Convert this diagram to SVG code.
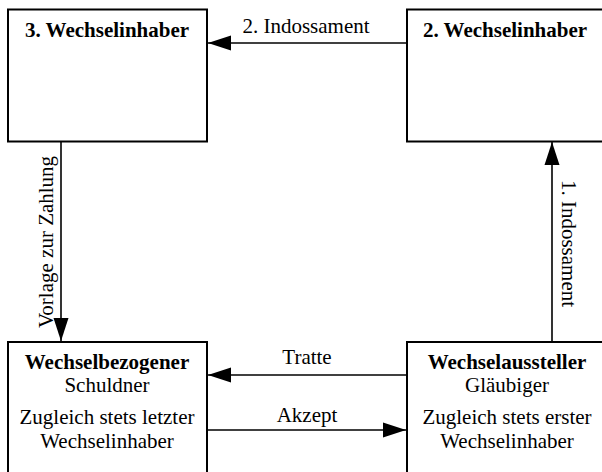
<svg xmlns="http://www.w3.org/2000/svg" width="602" height="472" viewBox="0 0 602 472">
<style>
.box{fill:#fff;stroke:#000;stroke-width:2}
.con{stroke:#000;stroke-width:1.6;fill:none}
text{font-family:"Liberation Serif","Times New Roman",serif;font-size:21px;fill:#000;text-anchor:middle}
.b{font-weight:bold}
</style>
<defs>
<marker id="ah" markerUnits="userSpaceOnUse" markerWidth="23" markerHeight="16" refX="23" refY="8" orient="auto">
<path d="M0,0.5 L23,8 L0,15.5 z" fill="#000"/>
</marker>
</defs>
<rect width="602" height="472" fill="#fff"/>
<g id="n3">
<rect class="box" x="8" y="9.5" width="199" height="132"/>
<text class="b" x="107" y="37">3. Wechselinhaber</text>
</g>
<g id="n2">
<rect class="box" x="407" y="9.5" width="210" height="132"/>
<text class="b" x="505" y="37">2. Wechselinhaber</text>
</g>
<g id="nb">
<rect class="box" x="8" y="342" width="199" height="140"/>
<text class="b" x="107" y="369">Wechselbezogener</text>
<text x="107" y="392">Schuldner</text>
<text x="107" y="424">Zugleich stets letzter</text>
<text x="107" y="448">Wechselinhaber</text>
</g>
<g id="na">
<rect class="box" x="407" y="342" width="210" height="140"/>
<text class="b" x="507" y="369">Wechselaussteller</text>
<text x="507" y="392">Gläubiger</text>
<text x="507" y="424">Zugleich stets erster</text>
<text x="507" y="448">Wechselinhaber</text>
</g>
<g id="connectors">
<line class="con" x1="406" y1="43" x2="208" y2="43" marker-end="url(#ah)"/>
<text x="306" y="33">2. Indossament</text>
<line class="con" x1="61" y1="142" x2="61" y2="341" marker-end="url(#ah)"/>
<text transform="translate(53,242) rotate(-90)">Vorlage zur Zahlung</text>
<line class="con" x1="552" y1="341" x2="552" y2="142" marker-end="url(#ah)"/>
<text transform="translate(562,243.5) rotate(90)">1. Indossament</text>
<line class="con" x1="406" y1="375" x2="208" y2="375" marker-end="url(#ah)"/>
<text x="307" y="364">Tratte</text>
<line class="con" x1="208" y1="430" x2="406" y2="430" marker-end="url(#ah)"/>
<text x="307" y="422">Akzept</text>
</g>
</svg>
